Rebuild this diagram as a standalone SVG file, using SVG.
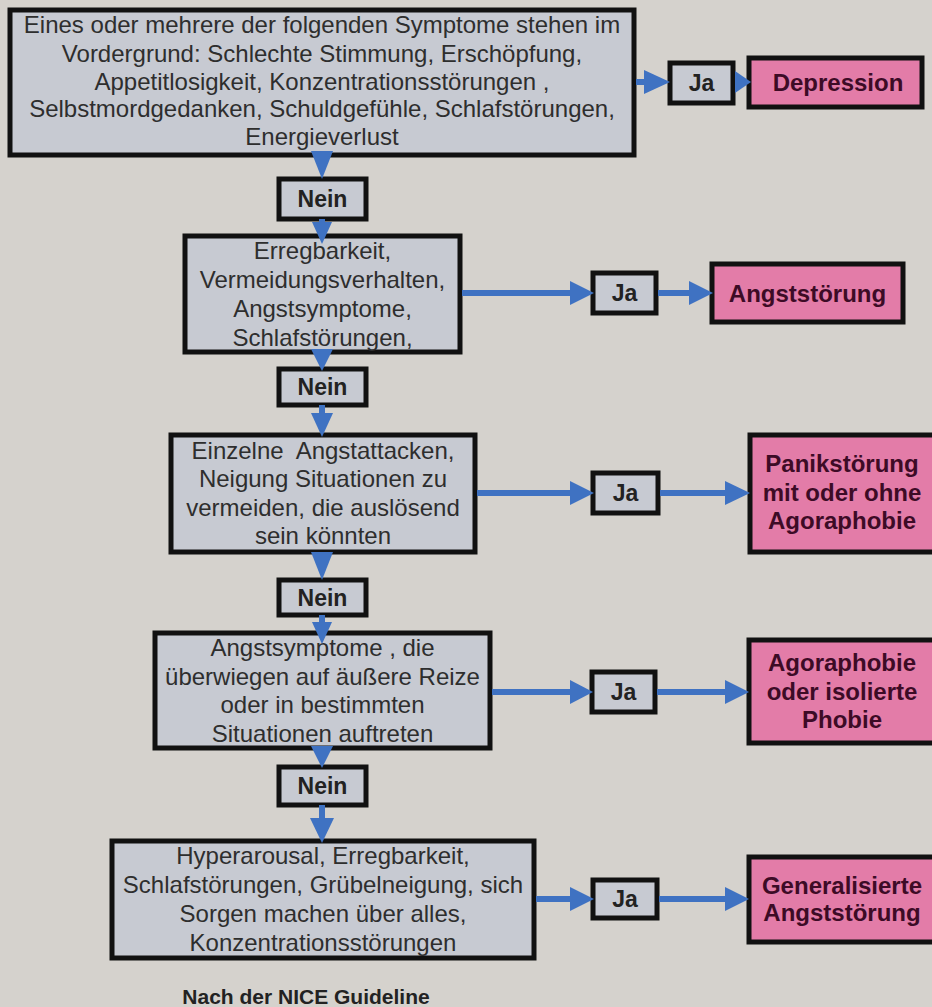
<svg xmlns="http://www.w3.org/2000/svg" width="932" height="1007" viewBox="0 0 932 1007">
<defs>
<style>
.bg{fill:#d5d2cd}
.q{fill:#c7cad2;stroke:#111;stroke-width:5}
.d{fill:#e37ca8;stroke:#111;stroke-width:5}
.t{font-family:"Liberation Sans",Arial,sans-serif;font-size:24px;fill:#2e2e2e;text-anchor:middle}
.b{font-family:"Liberation Sans",Arial,sans-serif;font-size:23px;font-weight:bold;fill:#222;text-anchor:middle}
.p{font-family:"Liberation Sans",Arial,sans-serif;font-size:24px;font-weight:bold;fill:#3d0b26;text-anchor:middle}
.c{stroke:#3f72c2;stroke-width:6;fill:none}
.h{fill:#3f72c2}
</style>
</defs>
<rect class="bg" x="0" y="0" width="932" height="1007"/>

<g id="q1">
  <rect class="q" x="10" y="10" width="624" height="145"/>
  <text class="t" x="322" y="33">Eines oder mehrere der folgenden Symptome stehen im</text>
  <text class="t" x="322" y="62">Vordergrund: Schlechte Stimmung, Erschöpfung,</text>
  <text class="t" x="322" y="90">Appetitlosigkeit, Konzentrationsstörungen ,</text>
  <text class="t" x="322" y="117">Selbstmordgedanken, Schuldgefühle, Schlafstörungen,</text>
  <text class="t" x="322" y="145">Energieverlust</text>
</g>
<g id="ja1"><rect class="q" x="670" y="63" width="63" height="40"/><text class="b" x="701.5" y="91">Ja</text></g>
<g id="depression"><rect class="d" x="749" y="58" width="173" height="49"/><text class="p" x="838" y="91">Depression</text></g>
<g id="nein1"><rect class="q" x="279" y="179" width="87" height="40"/><text class="b" x="322.5" y="207">Nein</text></g>

<g id="q2">
  <rect class="q" x="185" y="236" width="275" height="116"/>
  <text class="t" x="322.5" y="259">Erregbarkeit,</text>
  <text class="t" x="322.5" y="288">Vermeidungsverhalten,</text>
  <text class="t" x="322.5" y="317">Angstsymptome,</text>
  <text class="t" x="322.5" y="346">Schlafstörungen,</text>
</g>
<g id="ja2"><rect class="q" x="593" y="273" width="63" height="40"/><text class="b" x="624.5" y="301">Ja</text></g>
<g id="angststoerung"><rect class="d" x="712" y="264" width="191" height="58"/><text class="p" x="807.5" y="302">Angststörung</text></g>
<g id="nein2"><rect class="q" x="279" y="369" width="87" height="36"/><text class="b" x="322.5" y="395">Nein</text></g>

<g id="q3">
  <rect class="q" x="171" y="435" width="304" height="117"/>
  <text class="t" x="323" y="459" xml:space="preserve">Einzelne  Angstattacken,</text>
  <text class="t" x="323" y="487">Neigung Situationen zu</text>
  <text class="t" x="323" y="516">vermeiden, die auslösend</text>
  <text class="t" x="323" y="544">sein könnten</text>
</g>
<g id="ja3"><rect class="q" x="593" y="473" width="65" height="40"/><text class="b" x="625.5" y="501">Ja</text></g>
<g id="panik">
  <rect class="d" x="750" y="435" width="192" height="117"/>
  <text class="p" x="842" y="472">Panikstörung</text>
  <text class="p" x="842" y="501">mit oder ohne</text>
  <text class="p" x="842" y="529">Agoraphobie</text>
</g>
<g id="nein3"><rect class="q" x="279" y="580" width="87" height="35"/><text class="b" x="322.5" y="606">Nein</text></g>

<g id="q4">
  <rect class="q" x="155" y="633" width="335" height="115"/>
  <text class="t" x="322.5" y="656">Angstsymptome , die</text>
  <text class="t" x="322.5" y="685">überwiegen auf äußere Reize</text>
  <text class="t" x="322.5" y="713">oder in bestimmten</text>
  <text class="t" x="322.5" y="742">Situationen auftreten</text>
</g>
<g id="ja4"><rect class="q" x="592" y="672" width="63" height="40"/><text class="b" x="623.5" y="700">Ja</text></g>
<g id="agoraphobie">
  <rect class="d" x="749" y="640" width="193" height="103"/>
  <text class="p" x="842" y="671">Agoraphobie</text>
  <text class="p" x="842" y="700">oder isolierte</text>
  <text class="p" x="842" y="728">Phobie</text>
</g>
<g id="nein4"><rect class="q" x="279" y="767" width="87" height="38"/><text class="b" x="322.5" y="794">Nein</text></g>

<g id="q5">
  <rect class="q" x="112" y="841" width="422" height="117"/>
  <text class="t" x="323" y="864">Hyperarousal, Erregbarkeit,</text>
  <text class="t" x="323" y="893">Schlafstörungen, Grübelneigung, sich</text>
  <text class="t" x="323" y="922">Sorgen machen über alles,</text>
  <text class="t" x="323" y="951">Konzentrationsstörungen</text>
</g>
<g id="ja5"><rect class="q" x="593" y="880" width="64" height="38"/><text class="b" x="625" y="907">Ja</text></g>
<g id="generalisiert">
  <rect class="d" x="749" y="857" width="193" height="85"/>
  <text class="p" x="842" y="894">Generalisierte</text>
  <text class="p" x="842" y="921">Angststörung</text>
</g>

<g id="connectors">
  <polygon class="h" points="311,151 333,151 322,179"/>
  <line class="c" x1="322" y1="219" x2="322" y2="226"/>
  <polygon class="h" points="312,222 332,222 322,244"/>
  <polygon class="h" points="311,349 333,349 322,371"/>
  <line class="c" x1="322" y1="405" x2="322" y2="416"/>
  <polygon class="h" points="311,413 333,413 322,437"/>
  <polygon class="h" points="311,552 333,552 322,580"/>
  <line class="c" x1="322" y1="615" x2="322" y2="626"/>
  <polygon class="h" points="312,622 332,622 322,644"/>
  <polygon class="h" points="311,746 333,746 322,768"/>
  <line class="c" x1="322" y1="805" x2="322" y2="822"/>
  <polygon class="h" points="310,818 334,818 322,843"/>
  <line class="c" x1="636" y1="82" x2="648" y2="82"/>
  <polygon class="h" points="644,70 644,94 670,82"/>
  <polygon class="h" points="735,71 735,93 751,82"/>
  <line class="c" x1="462" y1="293" x2="575" y2="293"/>
  <polygon class="h" points="570,281 570,305 594,293"/>
  <line class="c" x1="658" y1="293" x2="694" y2="293"/>
  <polygon class="h" points="689,281 689,305 713,293"/>
  <line class="c" x1="477" y1="493" x2="575" y2="493"/>
  <polygon class="h" points="570,481 570,505 594,493"/>
  <line class="c" x1="660" y1="493" x2="730" y2="493"/>
  <polygon class="h" points="725,481 725,505 750,493"/>
  <line class="c" x1="492" y1="692" x2="575" y2="692"/>
  <polygon class="h" points="570,680 570,704 593,692"/>
  <line class="c" x1="657" y1="692" x2="730" y2="692"/>
  <polygon class="h" points="725,680 725,704 749,692"/>
  <line class="c" x1="536" y1="899" x2="575" y2="899"/>
  <polygon class="h" points="570,887 570,911 594,899"/>
  <line class="c" x1="659" y1="899" x2="730" y2="899"/>
  <polygon class="h" points="725,887 725,911 749,899"/>
</g>

<text x="306" y="1004" style="font-family:'Liberation Sans',Arial,sans-serif;font-size:21px;font-weight:bold;fill:#222;text-anchor:middle">Nach der NICE Guideline</text>
</svg>
